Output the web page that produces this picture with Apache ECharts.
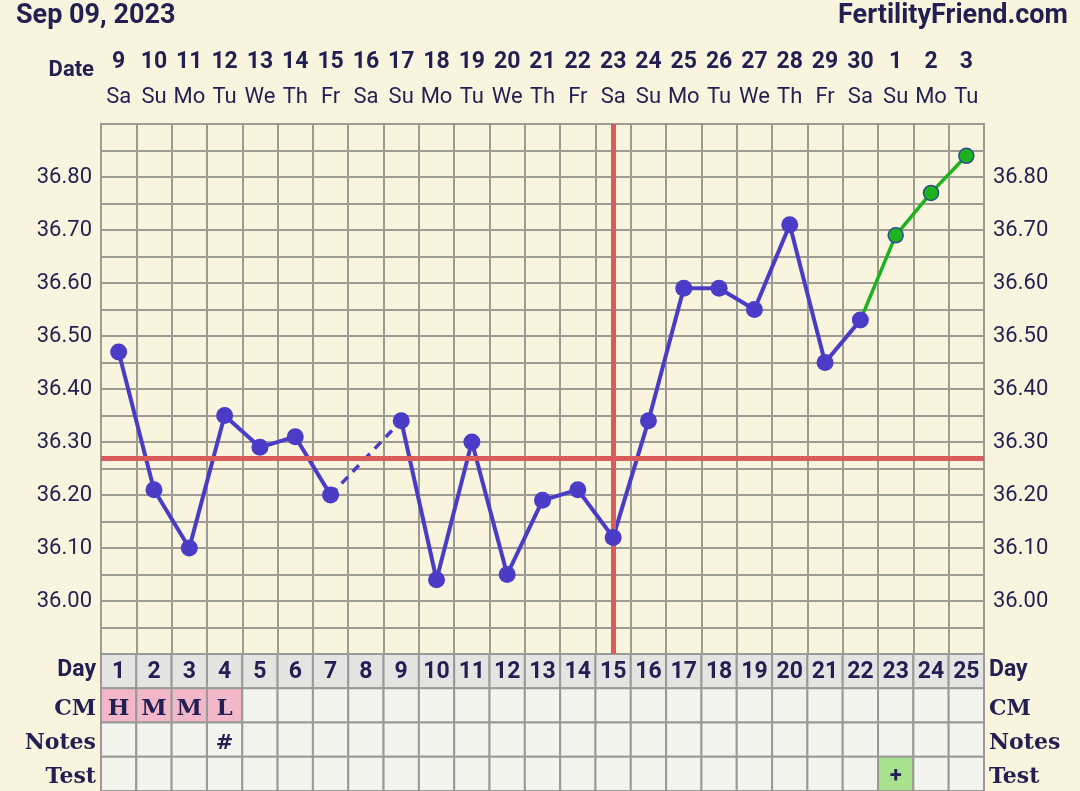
<!DOCTYPE html>
<html><head><meta charset="utf-8">
<script src="https://cdn.jsdelivr.net/npm/echarts@6/dist/echarts.min.js"></script>
<style>html,body{margin:0;padding:0;background:#f8f4de;}#c{width:1080px;height:791px;}</style>
</head><body><div id="c"></div><script>
// ---- data ----
const chartDate = 'Sep 09, 2023';
const siteName = 'FertilityFriend.com';
const days = ['1','2','3','4','5','6','7','8','9','10','11','12','13','14','15','16','17','18','19','20','21','22','23','24','25'];
const dates = ['9','10','11','12','13','14','15','16','17','18','19','20','21','22','23','24','25','26','27','28','29','30','1','2','3'];
const weekdays = ['Sa','Su','Mo','Tu','We','Th','Fr','Sa','Su','Mo','Tu','We','Th','Fr','Sa','Su','Mo','Tu','We','Th','Fr','Sa','Su','Mo','Tu'];
const temps = [36.47,36.21,36.10,36.35,36.29,36.31,36.20,null,36.34,36.04,36.30,36.05,36.19,36.21,36.12,36.34,36.59,36.59,36.55,36.71,36.45,36.53,null,null,null];
const laterTemps = [null,null,null,null,null,null,null,null,null,null,null,null,null,null,null,null,null,null,null,null,null,null,36.69,36.77,36.84];
const coverline = 36.265;
const ovulationDay = '15';
const rowNames = ['Day','CM','Notes','Test'];
const cmValues = ['H','M','M','L','','','','','','','','','','','','','','','','','','','','',''];
const notesValues = ['','','','#','','','','','','','','','','','','','','','','','','','','',''];
const testValues = ['','','','','','','','','','','','','','','','','','','','','','','+','',''];
const yTickLabels = [36.0,36.1,36.2,36.3,36.4,36.5,36.6,36.7,36.8];

// ---- derived series ----
// dashed bridge across missing days
const bridge = temps.map(() => null);
for (let i = 1; i < temps.length - 1; i++) {
  if (temps[i] === null && temps[i-1] !== null && temps[i+1] !== null) {
    bridge[i-1] = temps[i-1]; bridge[i+1] = temps[i+1];
  }
}
// later (green) segment starts from last recorded temp
const greenLine = laterTemps.map((v, i) => {
  if (v !== null) return v;
  if (i + 1 < laterTemps.length && laterTemps[i+1] !== null && temps[i] !== null) return {value: temps[i], symbol: 'none'};
  return null;
});

// table cells
const cellFill = {Day:'#e4e4e2', CM:'#f4f4ee', Notes:'#f4f4ee', Test:'#f4f4ee'};
const cells = [];
days.forEach((d, i) => {
  cells.push({pos:[d,'Day'], text:d, fill:cellFill.Day, font:'bold 23px Roboto', dy:1});
  cells.push({pos:[d,'CM'], text:cmValues[i], fill: cmValues[i] ? '#f2b7c9' : cellFill.CM, font:'bold 23px "DejaVu Serif"', dy:4});
  cells.push({pos:[d,'Notes'], text:notesValues[i], fill:cellFill.Notes, font:'bold 21px "DejaVu Serif"', dy:4});
  cells.push({pos:[d,'Test'], text:testValues[i], fill: testValues[i] ? '#a9e28e' : cellFill.Test, font:'bold 22px Roboto', dy:3});
});

const TXT = '#231f52';
const GRIDC = '#9d9c94';
const BLUE = '#4a3cc6';
const RED = '#d95b5b';

const chart = echarts.init(document.getElementById('c'), null, {renderer:'canvas'});
chart.setOption({
  backgroundColor: '#f8f4de',
  animation: false,
  graphic: [
    {type:'text', left:16, top:3, style:{text:chartDate, font:'bold 27px Roboto', fill:TXT}},
    {type:'text', right:12, top:3, style:{text:siteName, font:'bold 27px Roboto', fill:TXT}},
    {type:'text', right:986, top:59, style:{text:'Date', font:'bold 22px Roboto', fill:TXT}}
  ],
  grid: [
    {left:101, right:96, top:124, height:530, show:true, borderColor:GRIDC, borderWidth:2, backgroundColor:'#f8f4de'},
    {left:101, right:96, top:654, height:142, show:false}
  ],
  xAxis: [
    {type:'category', gridIndex:0, data:days, boundaryGap:true,
     axisLine:{show:false}, axisTick:{show:false}, axisLabel:{show:false},
     splitLine:{show:true, interval:0, lineStyle:{color:GRIDC, width:2}}},
    {type:'category', gridIndex:0, data:days, position:'top',
     axisLine:{show:false}, axisTick:{show:false},
     axisLabel:{interval:0, margin:16, formatter:(v,i)=>weekdays[i], fontFamily:'Roboto', fontSize:22, lineHeight:22, color:TXT}},
    {type:'category', gridIndex:0, data:days, position:'top', offset:34,
     axisLine:{show:false}, axisTick:{show:false},
     axisLabel:{interval:0, margin:16, formatter:(v,i)=>dates[i], fontFamily:'Roboto', fontWeight:'bold', fontSize:23, lineHeight:23, color:TXT}},
    {type:'category', gridIndex:1, data:days, axisLine:{show:false}, axisTick:{show:false}, axisLabel:{show:false}}
  ],
  yAxis: [
    {type:'value', gridIndex:0, min:35.9, max:36.9, interval:0.05,
     axisLine:{show:false}, axisTick:{show:false},
     splitLine:{show:true, lineStyle:{color:GRIDC, width:2}},
     axisLabel:{margin:9, fontFamily:'Roboto', fontSize:22, color:TXT,
       formatter:v => yTickLabels.some(t => Math.abs(t - v) < 1e-6) ? v.toFixed(2) : ''}},
    {type:'value', gridIndex:0, min:35.9, max:36.9, interval:0.05, position:'right',
     axisLine:{show:false}, axisTick:{show:false}, splitLine:{show:false},
     axisLabel:{margin:9, fontFamily:'Roboto', fontSize:22, color:TXT,
       formatter:v => yTickLabels.some(t => Math.abs(t - v) < 1e-6) ? v.toFixed(2) : ''}},
    {type:'category', gridIndex:1, data:rowNames, inverse:true, position:'left',
     axisLine:{show:false}, axisTick:{show:false},
     axisLabel:{margin:5, color:TXT, formatter:v => v === 'Day' ? '{a|' + v + '}' : '{b|' + v + '}',
       rich:{a:{fontFamily:'Roboto', fontWeight:'bold', fontSize:23, color:TXT, padding:[0,0,2,0]}, b:{fontFamily:'DejaVu Serif', fontWeight:'bold', fontSize:22, color:TXT, padding:[7,0,0,0]}}}},
    {type:'category', gridIndex:1, data:rowNames, inverse:true, position:'right',
     axisLine:{show:false}, axisTick:{show:false},
     axisLabel:{margin:5, color:TXT, formatter:v => v === 'Day' ? '{a|' + v + '}' : '{b|' + v + '}',
       rich:{a:{fontFamily:'Roboto', fontWeight:'bold', fontSize:23, color:TXT, padding:[0,0,2,0]}, b:{fontFamily:'DejaVu Serif', fontWeight:'bold', fontSize:22, color:TXT, padding:[7,0,0,0]}}}}
  ],
  series: [
    {type:'line', xAxisIndex:0, yAxisIndex:0, data:greenLine, z:3, connectNulls:false,
     symbol:'circle', symbolSize:15, showAllSymbol:true,
     lineStyle:{color:'#1db31d', width:3.5},
     itemStyle:{color:'#1db31d', borderColor:'#2c4f8f', borderWidth:1.5}},
    {type:'line', xAxisIndex:0, yAxisIndex:0, data:bridge, z:3, connectNulls:true, symbol:'none',
     lineStyle:{color:BLUE, width:3.5, type:[9,7]}},
    {type:'line', xAxisIndex:0, yAxisIndex:0, data:temps, z:3, connectNulls:false, symbol:'none',
     lineStyle:{color:BLUE, width:4}},
    {type:'line', xAxisIndex:0, yAxisIndex:0, data:[], z:4, silent:true,
     markLine:{silent:true, symbol:'none', label:{show:false},
       lineStyle:{color:RED, width:5, type:'solid', opacity:1},
       data:[{yAxis:coverline}, {xAxis:ovulationDay}]}},
    {type:'line', xAxisIndex:0, yAxisIndex:0, data:temps, z:5, symbol:'circle', symbolSize:17, showAllSymbol:true,
     lineStyle:{width:0, opacity:0}, itemStyle:{color:BLUE}},
    {type:'custom', xAxisIndex:3, yAxisIndex:2, data:cells.map(c => c.pos), z:2,
     renderItem:(params, api) => {
       const cell = cells[params.dataIndex];
       const c = api.coord([api.value(0), api.value(1)]);
       const s = api.size([1, 1]);
       return {type:'group', children:[
         {type:'rect', shape:{x:c[0]-s[0]/2, y:c[1]-s[1]/2, width:s[0], height:s[1]},
          style:{fill:cell.fill, stroke:'#9a9a98', lineWidth:2}},
         {type:'text', style:{text:cell.text, x:c[0], y:c[1]+cell.dy, align:'center', verticalAlign:'middle', font:cell.font, fill:TXT}}
       ]};
     }}
  ]
});
</script></body></html>
